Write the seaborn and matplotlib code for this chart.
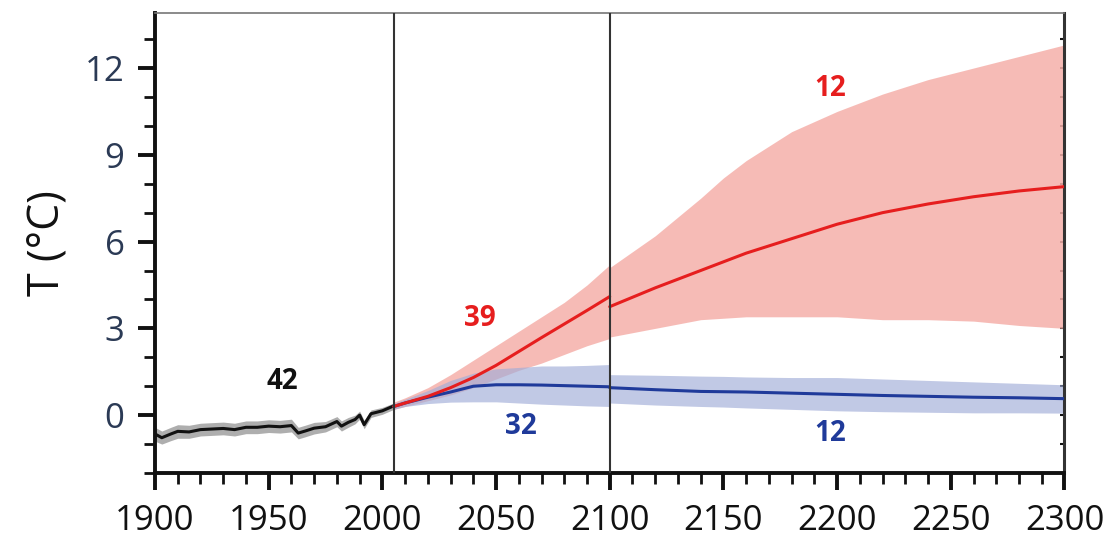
import numpy as np
import pandas as pd
import matplotlib
matplotlib.use("Agg")
import matplotlib.pyplot as plt
import seaborn as sns
from matplotlib.ticker import MultipleLocator

sns.set_theme(style="white")
plt.rcParams['font.family'] = ['Open Sans', 'DejaVu Sans']

# ---- data ----
hist_years = [1900, 1903, 1907, 1910, 1915, 1920, 1925, 1930, 1935, 1940, 1945, 1950, 1955, 1960,
              1963, 1966, 1970, 1975, 1980, 1982, 1985, 1988, 1990, 1992, 1995, 2000, 2005]
hist_mean = [-0.65, -0.78, -0.65, -0.56, -0.58, -0.5, -0.48, -0.46, -0.5, -0.42, -0.42, -0.38, -0.4, -0.36,
             -0.62, -0.55, -0.45, -0.4, -0.22, -0.38, -0.25, -0.15, 0.0, -0.33, 0.05, 0.15, 0.32]
hist_lo = [-0.9, -1.0, -0.88, -0.8, -0.8, -0.72, -0.7, -0.68, -0.72, -0.64, -0.64, -0.6, -0.62, -0.58,
           -0.82, -0.75, -0.65, -0.58, -0.4, -0.55, -0.42, -0.3, -0.14, -0.47, -0.08, 0.03, 0.2]
hist_hi = [-0.42, -0.55, -0.42, -0.33, -0.35, -0.28, -0.26, -0.24, -0.28, -0.2, -0.2, -0.16, -0.18, -0.14,
           -0.42, -0.35, -0.25, -0.22, -0.05, -0.2, -0.08, 0.0, 0.14, -0.18, 0.18, 0.27, 0.42]

p1_years = [2005, 2010, 2020, 2030, 2040, 2050, 2060, 2070, 2080, 2090, 2100]
red1_mean = [0.3, 0.42, 0.65, 0.95, 1.3, 1.72, 2.2, 2.68, 3.15, 3.62, 4.1]
red1_lo = [0.2, 0.3, 0.5, 0.7, 0.95, 1.25, 1.55, 1.8, 2.1, 2.4, 2.65]
red1_hi = [0.45, 0.6, 0.95, 1.4, 1.9, 2.4, 2.9, 3.4, 3.9, 4.5, 5.2]
blue1_mean = [0.3, 0.42, 0.62, 0.8, 1.0, 1.05, 1.05, 1.04, 1.02, 1.0, 0.98]
blue1_lo = [0.2, 0.3, 0.4, 0.45, 0.46, 0.46, 0.42, 0.38, 0.35, 0.32, 0.3]
blue1_hi = [0.4, 0.55, 0.85, 1.2, 1.45, 1.6, 1.65, 1.7, 1.7, 1.72, 1.75]

p2_years = [2100, 2120, 2140, 2150, 2160, 2180, 2200, 2220, 2240, 2260, 2280, 2300]
red2_mean = [3.75, 4.4, 5.0, 5.3, 5.6, 6.1, 6.6, 7.0, 7.3, 7.55, 7.75, 7.9]
red2_lo = [2.7, 3.0, 3.3, 3.35, 3.4, 3.4, 3.4, 3.3, 3.3, 3.25, 3.1, 3.0]
red2_hi = [5.1, 6.2, 7.5, 8.2, 8.8, 9.8, 10.5, 11.1, 11.6, 12.0, 12.4, 12.8]
blue2_mean = [0.95, 0.88, 0.82, 0.81, 0.8, 0.76, 0.72, 0.68, 0.65, 0.62, 0.6, 0.57]
blue2_lo = [0.42, 0.35, 0.3, 0.28, 0.25, 0.2, 0.15, 0.12, 0.1, 0.08, 0.08, 0.07]
blue2_hi = [1.4, 1.38, 1.35, 1.34, 1.32, 1.3, 1.3, 1.25, 1.2, 1.15, 1.1, 1.05]

annot_text = ["42", "39", "32", "12", "12"]
annot_x = [1956, 2043, 2061, 2197, 2197]
annot_y = [1.17, 3.34, -0.4, 11.3, -0.62]

x_ticks = [1900, 1950, 2000, 2050, 2100, 2150, 2200, 2250, 2300]
y_ticks = [0, 3, 6, 9, 12]
period_lines = [2005, 2100]

# colours
BLACK = "#111111"
GREY_BAND = "#9a9a9a"
RED = "#e61e1e"
RED_BAND = "#f5b0aa"
BLUE = "#1f3a9a"
BLUE_BAND = "#a0acd8"

fig = plt.figure(figsize=(11.15, 5.44), dpi=100)
ax = fig.add_axes([0.139, 0.1305, 0.8157, 0.8455])

# bands
ax.fill_between(hist_years, hist_lo, hist_hi, color=GREY_BAND, alpha=0.8, lw=0, zorder=1)
ax.fill_between(p1_years, red1_lo, red1_hi, color=RED_BAND, alpha=0.85, lw=0, zorder=1)
ax.fill_between(p2_years, red2_lo, red2_hi, color=RED_BAND, alpha=0.85, lw=0, zorder=1)
ax.fill_between(p1_years, blue1_lo, blue1_hi, color=BLUE_BAND, alpha=0.65, lw=0, zorder=2)
ax.fill_between(p2_years, blue2_lo, blue2_hi, color=BLUE_BAND, alpha=0.65, lw=0, zorder=2)

# lines via seaborn
df_hist = pd.DataFrame({"year": hist_years, "T": hist_mean})
df_r1 = pd.DataFrame({"year": p1_years, "T": red1_mean})
df_r2 = pd.DataFrame({"year": p2_years, "T": red2_mean})
df_b1 = pd.DataFrame({"year": p1_years, "T": blue1_mean})
df_b2 = pd.DataFrame({"year": p2_years, "T": blue2_mean})
sns.lineplot(data=df_hist, x="year", y="T", color=BLACK, lw=2.2, ax=ax, zorder=4)
sns.lineplot(data=df_b1, x="year", y="T", color=BLUE, lw=2.2, ax=ax, zorder=4)
sns.lineplot(data=df_b2, x="year", y="T", color=BLUE, lw=2.2, ax=ax, zorder=4)
sns.lineplot(data=df_r1, x="year", y="T", color=RED, lw=2.2, ax=ax, zorder=5)
sns.lineplot(data=df_r2, x="year", y="T", color=RED, lw=2.2, ax=ax, zorder=5)

for xv in period_lines:
    ax.axvline(xv, color="#333333", lw=1.5, zorder=6)

colors = [BLACK, RED, BLUE, RED, BLUE]
for t, x, y, c in zip(annot_text, annot_x, annot_y, colors):
    ax.text(x, y, t, color=c, fontsize=20, fontweight="bold", ha="center", va="center", zorder=7)

ax.set_xlim(1900, 2300)
ax.set_ylim(-2, 13.9)
ax.set_xticks(x_ticks)
ax.set_xticklabels([str(v) for v in x_ticks])
ax.set_yticks(y_ticks)
ax.set_yticklabels([str(v) for v in y_ticks])
ax.xaxis.set_minor_locator(MultipleLocator(10))
ax.yaxis.set_minor_locator(MultipleLocator(1))
ax.set_xlabel("")
ax.set_ylabel("T (°C)", fontsize=31, labelpad=10, color=BLACK)

ax.tick_params(axis="x", which="both", bottom=True, top=False)
ax.tick_params(axis="y", which="both", left=True, right=True)
ax.tick_params(axis="both", which="major", direction="out", length=12, width=2.8,
               labelsize=25, colors=BLACK, pad=10)
ax.tick_params(axis="both", which="minor", direction="out", length=8, width=2.0, colors=BLACK)
for lab in ax.get_yticklabels():
    lab.set_color("#2b3a55")
for side in ["left", "bottom"]:
    ax.spines[side].set_visible(True)
    ax.spines[side].set_color(BLACK)
    ax.spines[side].set_linewidth(2.8)
ax.spines["top"].set_color("#777777")
ax.spines["top"].set_linewidth(1.2)
ax.spines["right"].set_color("#333333")
ax.spines["right"].set_linewidth(2.2)
# tiny inward marks on right spine
for tl in ax.yaxis.get_major_ticks() + ax.yaxis.get_minor_ticks():
    tl.tick2line.set_markersize(3)
    tl.tick2line.set_markeredgewidth(1.5)
    tl.tick2line.set_marker(0)

fig.savefig("out.png", dpi=100)
